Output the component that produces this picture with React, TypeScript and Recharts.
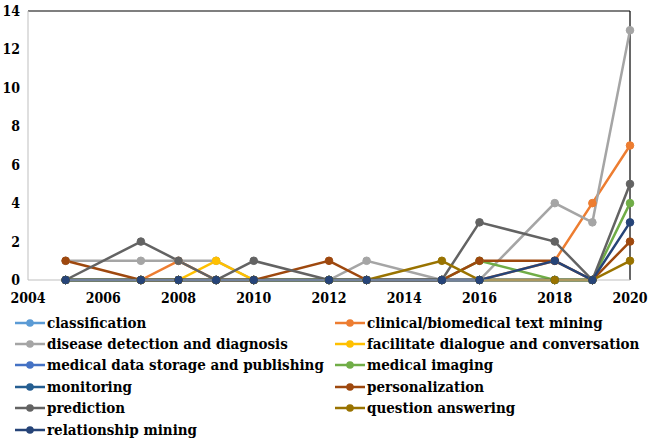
import * as React from "react";
import { Legend, Line, LineChart, ReferenceLine, XAxis, YAxis } from "recharts";

const years = [2005, 2007, 2008, 2009, 2010, 2012, 2013, 2015, 2016, 2018, 2019, 2020];
const xTicks = [2004, 2006, 2008, 2010, 2012, 2014, 2016, 2018, 2020];
const yTicks = [0, 2, 4, 6, 8, 10, 12, 14];

const classification = [0, 0, 0, 0, 0, 0, 0, 0, 0, 0, 0, null];
const clinicalText = [0, 0, 1, 0, 0, 0, 0, 0, 0, 1, 4, 7];
const diseaseDetection = [1, 1, 1, 1, 0, 0, 1, 0, 0, 4, 3, 13];
const facilitateDialogue = [0, 0, 0, 1, 0, 0, 0, 0, 0, 0, 0, null];
const dataStorage = [0, 0, 0, 0, 0, 0, 0, 0, 0, 0, 0, null];
const medicalImaging = [0, 0, 0, 0, 0, 0, 0, 0, 1, 0, 0, 4];
const monitoring = [0, 0, 0, 0, 0, 0, 0, 0, 0, 0, 0, null];
const personalization = [1, 0, 0, 0, 0, 1, 0, 0, 1, 1, 0, 2];
const prediction = [0, 2, 1, 0, 1, 0, 0, 0, 3, 2, 0, 5];
const questionAnswering = [0, 0, 0, 0, 0, 0, 0, 1, 0, 0, 0, 1];
const relationshipMining = [0, 0, 0, 0, 0, 0, 0, 0, 0, 1, 0, 3];

const series = [
  { key: "classification", values: classification, color: "#5B9BD5" },
  { key: "clinical/biomedical text mining", values: clinicalText, color: "#ED7D31" },
  { key: "disease detection and diagnosis", values: diseaseDetection, color: "#A5A5A5" },
  { key: "facilitate dialogue and conversation", values: facilitateDialogue, color: "#FFC000" },
  { key: "medical data storage and publishing", values: dataStorage, color: "#4472C4" },
  { key: "medical imaging", values: medicalImaging, color: "#70AD47" },
  { key: "monitoring", values: monitoring, color: "#255E91" },
  { key: "personalization", values: personalization, color: "#9E480E" },
  { key: "prediction", values: prediction, color: "#636363" },
  { key: "question answering", values: questionAnswering, color: "#997300" },
  { key: "relationship mining", values: relationshipMining, color: "#264478" }
];

const data = years.map((year, i) => {
  const row: Record<string, number | null> = { year };
  series.forEach((s) => {
    row[s.key] = s.values[i];
  });
  return row;
});

const font = '"DejaVu Serif Condensed", "DejaVu Serif", serif';
const tickStyle = { fill: "#000", fontSize: 14, fontWeight: 700, fontFamily: font };

function LegendGrid() {
  return (
    <div
      style={{
        height: 130,
        boxSizing: "border-box",
        paddingTop: 2,
        display: "grid",
        gridTemplateColumns: "320px 320px",
        gridAutoRows: "21.4px",
        paddingLeft: 15,
        fontFamily: font,
        fontStretch: "condensed",
        fontWeight: 700,
        fontSize: 15,
        color: "#000"
      }}
    >
      {series.map((s) => (
        <div key={s.key} style={{ display: "flex", alignItems: "center", whiteSpace: "nowrap" }}>
          <svg width={31} height={10} style={{ marginRight: 1 }}>
            <line x1={0} y1={5} x2={30} y2={5} stroke={s.color} strokeWidth={2.5} />
            <circle cx={15} cy={5} r={3.8} fill={s.color} />
          </svg>
          <span>{s.key}</span>
        </div>
      ))}
    </div>
  );
}

export default function App() {
  return (
    <div style={{ position: "absolute", left: 0, top: 0, background: "#fff" }}>
      <LineChart width={649} height={443} data={data} margin={{ top: 11, right: 19, left: 0, bottom: 3 }}>
        <XAxis
          dataKey="year"
          type="number"
          domain={[2004, 2020]}
          ticks={xTicks}
          tickLine={false}
          tickMargin={7}
          axisLine={{ stroke: "#BFBFBF" }}
          tick={tickStyle}
          interval={0}
        />
        <YAxis
          type="number"
          domain={[0, 14]}
          ticks={yTicks}
          width={28}
          tickLine={false}
          axisLine={{ stroke: "#BFBFBF" }}
          tick={tickStyle}
          interval={0}
        />
        <ReferenceLine y={14} stroke="#000" strokeWidth={1.2} />
        <ReferenceLine x={2020} stroke="#000" strokeWidth={1.2} />
        <Legend verticalAlign="bottom" wrapperStyle={{ left: 0, width: 649 }} content={() => <LegendGrid />} />
        {series.map((s) => (
          <Line
            key={s.key}
            dataKey={s.key}
            stroke={s.color}
            strokeWidth={2.5}
            dot={{ r: 3.8, fill: s.color, stroke: s.color, strokeWidth: 1 }}
            activeDot={false}
            isAnimationActive={false}
          />
        ))}
      </LineChart>
    </div>
  );
}
